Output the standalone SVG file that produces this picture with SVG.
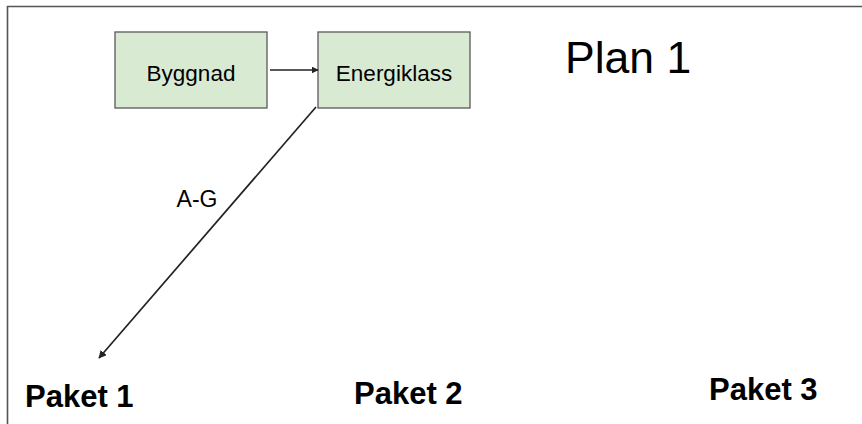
<svg xmlns="http://www.w3.org/2000/svg" width="862" height="424" viewBox="0 0 862 424">
  <style>
    .box { fill: #d9ead3; stroke: #595959; stroke-width: 1.3; }
    .lbl { font-family: "Liberation Sans", Arial, sans-serif; fill: #000; }
    .conn { stroke: #222; stroke-width: 1.7; fill: none; }
    .frame { stroke: #555; stroke-width: 1.6; fill: none; }
  </style>
  <defs>
    <marker id="arrow" viewBox="0 0 10 10" refX="9" refY="5" markerWidth="7" markerHeight="7" orient="auto" markerUnits="userSpaceOnUse">
      <path d="M0,0 L10,5 L0,10 z" fill="#222"/>
    </marker>
    <marker id="arrowL" viewBox="0 0 10 10" refX="9" refY="5" markerWidth="8" markerHeight="8" orient="auto" markerUnits="userSpaceOnUse">
      <path d="M0,0 L10,5 L0,10 z" fill="#222"/>
    </marker>
  </defs>

  <!-- page frame -->
  <g id="frame">
    <path class="frame" d="M7.5,424 L7.5,6.5 L862,6.5"/>
  </g>

  <g id="byggnad">
    <rect class="box" x="115" y="32" width="152" height="76"/>
    <text class="lbl" x="191" y="81" font-size="22.5" text-anchor="middle">Byggnad</text>
  </g>

  <g id="energiklass">
    <rect class="box" x="318" y="32" width="152" height="76"/>
    <text class="lbl" x="394" y="81" font-size="22.5" text-anchor="middle">Energiklass</text>
  </g>

  <g id="title">
    <text class="lbl" x="565" y="73" font-size="44.5">Plan 1</text>
  </g>

  <g id="connectors">
    <line class="conn" x1="270" y1="70" x2="318" y2="70" marker-end="url(#arrow)"/>
    <line class="conn" x1="316" y1="107" x2="99" y2="358" marker-end="url(#arrowL)"/>
    <text class="lbl" x="197" y="207" font-size="23" text-anchor="middle">A-G</text>
  </g>

  <g id="paket1">
    <text class="lbl" x="25" y="407" font-size="31" font-weight="bold">Paket 1</text>
  </g>
  <g id="paket2">
    <text class="lbl" x="354" y="404" font-size="31" font-weight="bold">Paket 2</text>
  </g>
  <g id="paket3">
    <text class="lbl" x="709" y="400" font-size="31" font-weight="bold">Paket 3</text>
  </g>
</svg>
